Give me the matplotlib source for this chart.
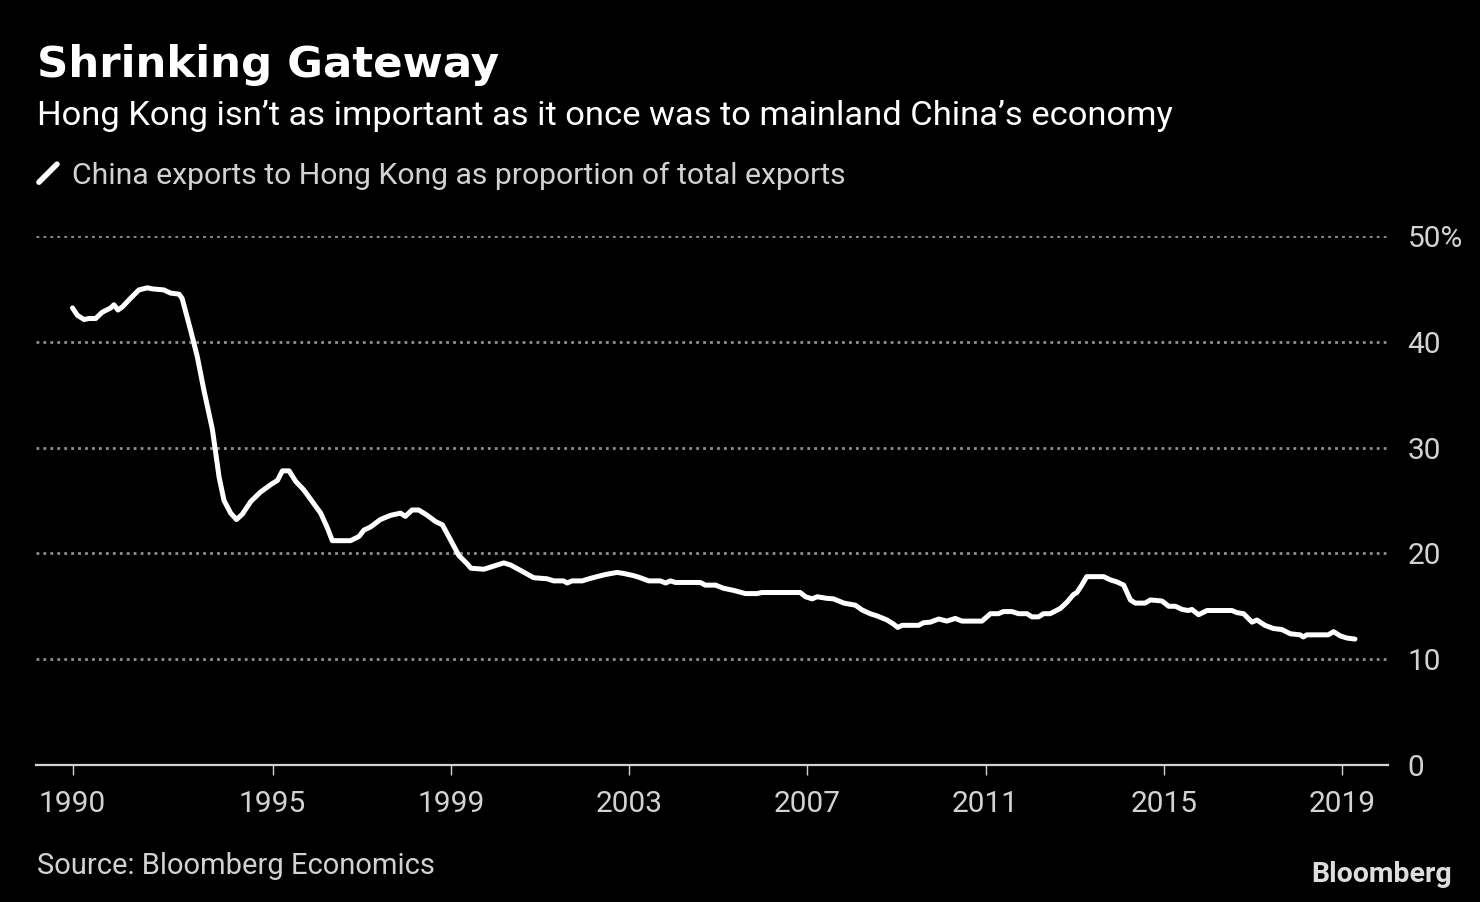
import matplotlib
matplotlib.use("Agg")
import matplotlib.pyplot as plt
from matplotlib.lines import Line2D

# Datos (año decimal, % de exportaciones)
anios = [
    1990.51, 1990.62, 1990.77, 1990.88, 1991.03, 1991.18, 1991.37, 1991.44, 1991.53, 1991.63,
    1991.81, 1992.00, 1992.19, 1992.30, 1992.56, 1992.71, 1992.90, 1992.97, 1993.16, 1993.31,
    1993.46, 1993.65, 1993.80, 1993.91, 1994.06, 1994.19, 1994.32, 1994.51, 1994.73, 1994.96,
    1995.11, 1995.22, 1995.37, 1995.52, 1995.70, 1995.89, 1996.08, 1996.23, 1996.34, 1996.75,
    1996.94, 1997.05, 1997.20, 1997.42, 1997.65, 1997.87, 1997.98, 1998.13, 1998.28, 1998.47,
    1998.66, 1998.81, 1998.99, 1999.18, 1999.37, 1999.45, 1999.74, 1999.89, 2000.19, 2000.34,
    2000.56, 2000.86, 2001.16, 2001.31, 2001.53, 2001.61, 2001.72, 2001.95, 2002.10, 2002.28,
    2002.47, 2002.73, 2002.88, 2003.10, 2003.25, 2003.44, 2003.70, 2003.82, 2003.93, 2004.04,
    2004.60, 2004.71, 2004.94, 2005.12, 2005.35, 2005.61, 2005.87, 2005.98, 2006.84, 2006.96,
    2007.11, 2007.22, 2007.44, 2007.59, 2007.82, 2008.08, 2008.23, 2008.41, 2008.56, 2008.79,
    2008.94, 2009.03, 2009.13, 2009.50, 2009.61, 2009.76, 2009.95, 2010.13, 2010.32, 2010.47,
    2010.92, 2011.11, 2011.29, 2011.40, 2011.59, 2011.74, 2011.93, 2012.04, 2012.19, 2012.30,
    2012.45, 2012.68, 2012.83, 2012.97, 2013.05, 2013.16, 2013.27, 2013.65, 2013.80, 2013.95,
    2014.10, 2014.25, 2014.36, 2014.58, 2014.70, 2014.96, 2015.11, 2015.26, 2015.41, 2015.55,
    2015.63, 2015.78, 2015.97, 2016.53, 2016.64, 2016.79, 2016.98, 2017.09, 2017.27, 2017.46,
    2017.65, 2017.84, 2018.06, 2018.13, 2018.21, 2018.69, 2018.81, 2018.96, 2019.11, 2019.29,
]
proporcion = [
    43.2, 42.5, 42.1, 42.2, 42.2, 42.8, 43.2, 43.5, 43.0, 43.3,
    44.1, 44.9, 45.1, 45.0, 44.9, 44.6, 44.5, 44.1, 41.1, 38.6,
    35.4, 31.7, 27.2, 25.0, 23.8, 23.2, 23.7, 24.9, 25.8, 26.5,
    26.9, 27.8, 27.8, 26.8, 26.0, 24.9, 23.8, 22.4, 21.2, 21.2,
    21.6, 22.2, 22.5, 23.2, 23.6, 23.8, 23.5, 24.1, 24.1, 23.6,
    23.0, 22.7, 21.3, 19.8, 19.0, 18.6, 18.5, 18.7, 19.1, 18.9,
    18.4, 17.7, 17.6, 17.4, 17.4, 17.2, 17.4, 17.4, 17.6, 17.8,
    18.0, 18.2, 18.1, 17.9, 17.7, 17.4, 17.4, 17.2, 17.4, 17.25,
    17.25, 17.0, 17.0, 16.7, 16.5, 16.2, 16.2, 16.3, 16.3, 15.9,
    15.7, 15.9, 15.75, 15.7, 15.3, 15.1, 14.65, 14.3, 14.1, 13.7,
    13.3, 13.0, 13.2, 13.2, 13.45, 13.5, 13.8, 13.6, 13.85, 13.6,
    13.6, 14.3, 14.3, 14.5, 14.5, 14.3, 14.3, 14.0, 14.0, 14.3,
    14.3, 14.8, 15.4, 16.1, 16.3, 17.0, 17.8, 17.8, 17.5, 17.3,
    17.0, 15.6, 15.3, 15.3, 15.6, 15.5, 15.0, 15.0, 14.7, 14.6,
    14.7, 14.2, 14.6, 14.6, 14.4, 14.3, 13.5, 13.7, 13.2, 12.9,
    12.8, 12.4, 12.3, 12.1, 12.3, 12.3, 12.6, 12.2, 12.0, 11.9,
]

ticks_x = [1990.51, 1995, 1999, 2003, 2007, 2011, 2015, 2019]
etiquetas_x = ['1990', '1995', '1999', '2003', '2007', '2011', '2015', '2019']
ticks_y = [0, 10, 20, 30, 40, 50]
etiquetas_y = ['0', '10', '20', '30', '40', '50%']

FUENTE = ['Roboto', 'DejaVu Sans']
GRIS = '#d2d2d2'

fig = plt.figure(figsize=(14.8, 9.02), dpi=100, facecolor='black')
ax = fig.add_axes([0.0243, 0.1519, 0.9135, 0.5865], facecolor='black')

ax.plot(anios, proporcion, color='white', linewidth=3.6,
        solid_joinstyle='round', solid_capstyle='round', zorder=3)

ax.set_xlim(1989.69, 2020.03)
ax.set_ylim(0, 50)

# Rejilla punteada
for y in ticks_y[1:]:
    ax.axhline(y, color='#8f8f8f', linewidth=2.0, linestyle=(0, (1.0, 1.5)), zorder=1)

for lado in ['top', 'left', 'right']:
    ax.spines[lado].set_visible(False)
ax.spines['bottom'].set_color(GRIS)
ax.spines['bottom'].set_linewidth(1.6)

ax.set_xticks(ticks_x)
ax.set_xticklabels(etiquetas_x, family=FUENTE, fontsize=21.5, color=GRIS)
ax.tick_params(axis='x', direction='out', length=7, width=1, color=GRIS, pad=11)

ax.yaxis.tick_right()
ax.set_yticks(ticks_y)
ax.set_yticklabels(etiquetas_y, family=FUENTE, fontsize=21.5, color=GRIS)
ax.tick_params(axis='y', length=0, pad=14)

# Textos
fig.text(0.025, 0.9146, 'Shrinking Gateway', family=['DejaVu Sans'],
         fontweight='bold', fontsize=31.3, color='white', va='baseline')
fig.text(0.025, 0.8614, 'Hong Kong isn\u2019t as important as it once was to mainland China\u2019s economy',
         family=FUENTE, fontsize=24.8, color='white', va='baseline')
fig.add_artist(Line2D([0.0263, 0.0385], [0.798, 0.818], transform=fig.transFigure,
                      color='white', linewidth=4, solid_capstyle='round'))
fig.text(0.0486, 0.796, 'China exports to Hong Kong as proportion of total exports',
         family=FUENTE, fontsize=21.7, color=GRIS, va='baseline')
fig.text(0.025, 0.031, 'Source: Bloomberg Economics', family=FUENTE,
         fontsize=21.0, color=GRIS, va='baseline')
fig.text(0.981, 0.022, 'Bloomberg', family=FUENTE, fontweight='bold',
         fontsize=20.5, color='#dddddd', ha='right', va='baseline')

fig.savefig('out.png', dpi=100, facecolor='black')
